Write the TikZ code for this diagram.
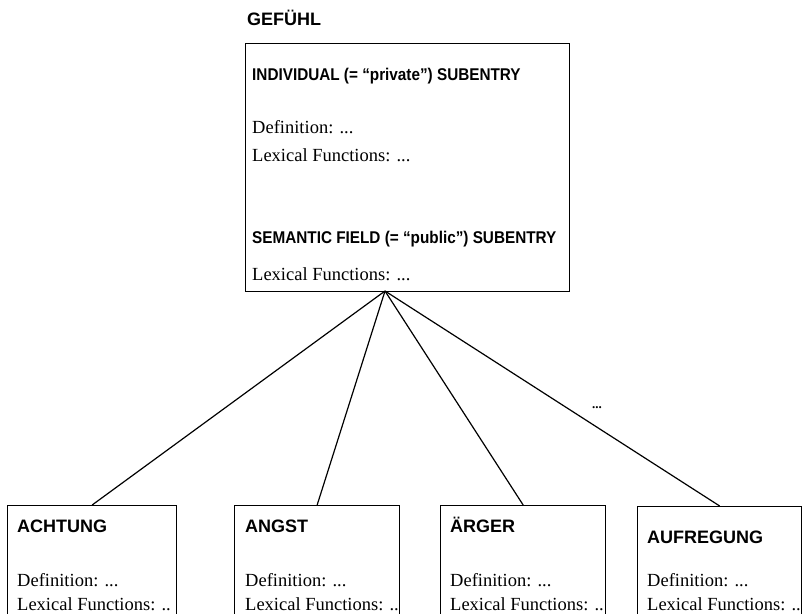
\documentclass[tikz,border=0pt]{standalone}
\usepackage{fontspec}
\setmainfont{Liberation Serif}
\setsansfont{Liberation Sans}
\newfontfamily\narrowsans[FakeStretch=0.9]{Liberation Sans}
\usetikzlibrary{positioning, calc}

\begin{document}
\begin{tikzpicture}[
    x=1pt, y=-1pt,
    entry/.style={rectangle, draw, line width=1.3pt, anchor=north west, inner sep=0pt},
    lemma/.style={anchor=base west, inner sep=0pt, font=\sffamily\bfseries\fontsize{18}{20}\selectfont},
    sub/.style={anchor=base west, inner sep=0pt, font=\narrowsans\bfseries\fontsize{17}{19}\selectfont},
    field/.style={anchor=base west, inner sep=0pt, font=\fontsize{18.5}{20}\selectfont},
    link/.style={line width=1.2pt},
]
    \useasboundingbox (0,0) rectangle (803,613);
    \clip (0,0) rectangle (803,613);

    % Main entry
    \node[lemma] (gefuehl-name) at (247,25) {GEFÜHL};
    \node[entry, minimum width=324pt, minimum height=248pt] (gefuehl) at (245,43) {};
    \node[sub] (indiv) at (252,80) {INDIVIDUAL (= “private”) SUBENTRY};
    \node[field] (indiv-def) at (252,133) {Definition: ...};
    \node[field] (indiv-lf) at (252,161) {Lexical Functions: ...};
    \node[sub] (sfield) at (252,243) {SEMANTIC FIELD (= “public”) SUBENTRY};
    \node[field] (sfield-lf) at (252,280) {Lexical Functions: ...};
    \coordinate (apex) at (385,291);

    % Field members
    \node[entry, minimum width=169pt, minimum height=130pt] (achtung) at (7,505) {};
    \node[lemma] at (17,532) {ACHTUNG};
    \node[field] at (17,586) {Definition: ...};
    \node[field] at (17,610) {Lexical Functions: ..};

    \node[entry, minimum width=165pt, minimum height=130pt] (angst) at (234,505) {};
    \node[lemma] at (245,532) {ANGST};
    \node[field] at (245,586) {Definition: ...};
    \node[field] at (245,610) {Lexical Functions: ..};

    \node[entry, minimum width=165pt, minimum height=130pt] (aerger) at (440,505) {};
    \node[lemma] at (450,532) {ÄRGER};
    \node[field] at (450,586) {Definition: ...};
    \node[field] at (450,610) {Lexical Functions: ..};

    \node[entry, minimum width=164pt, minimum height=130pt] (aufregung) at (637,506) {};
    \node[lemma] at (647,543) {AUFREGUNG};
    \node[field] at (647,586) {Definition: ...};
    \node[field] at (647,610) {Lexical Functions: ..};

    % Links
    \draw[link] (apex) -- (achtung.north);
    \draw[link] (apex) -- (angst.north);
    \draw[link] (apex) -- (aerger.north);
    \draw[link] (apex) -- (aufregung.north);
    \node[anchor=base, inner sep=0pt, font=\bfseries\fontsize{13}{14}\selectfont] (more) at (597,408) {...};
\end{tikzpicture}
\end{document}
